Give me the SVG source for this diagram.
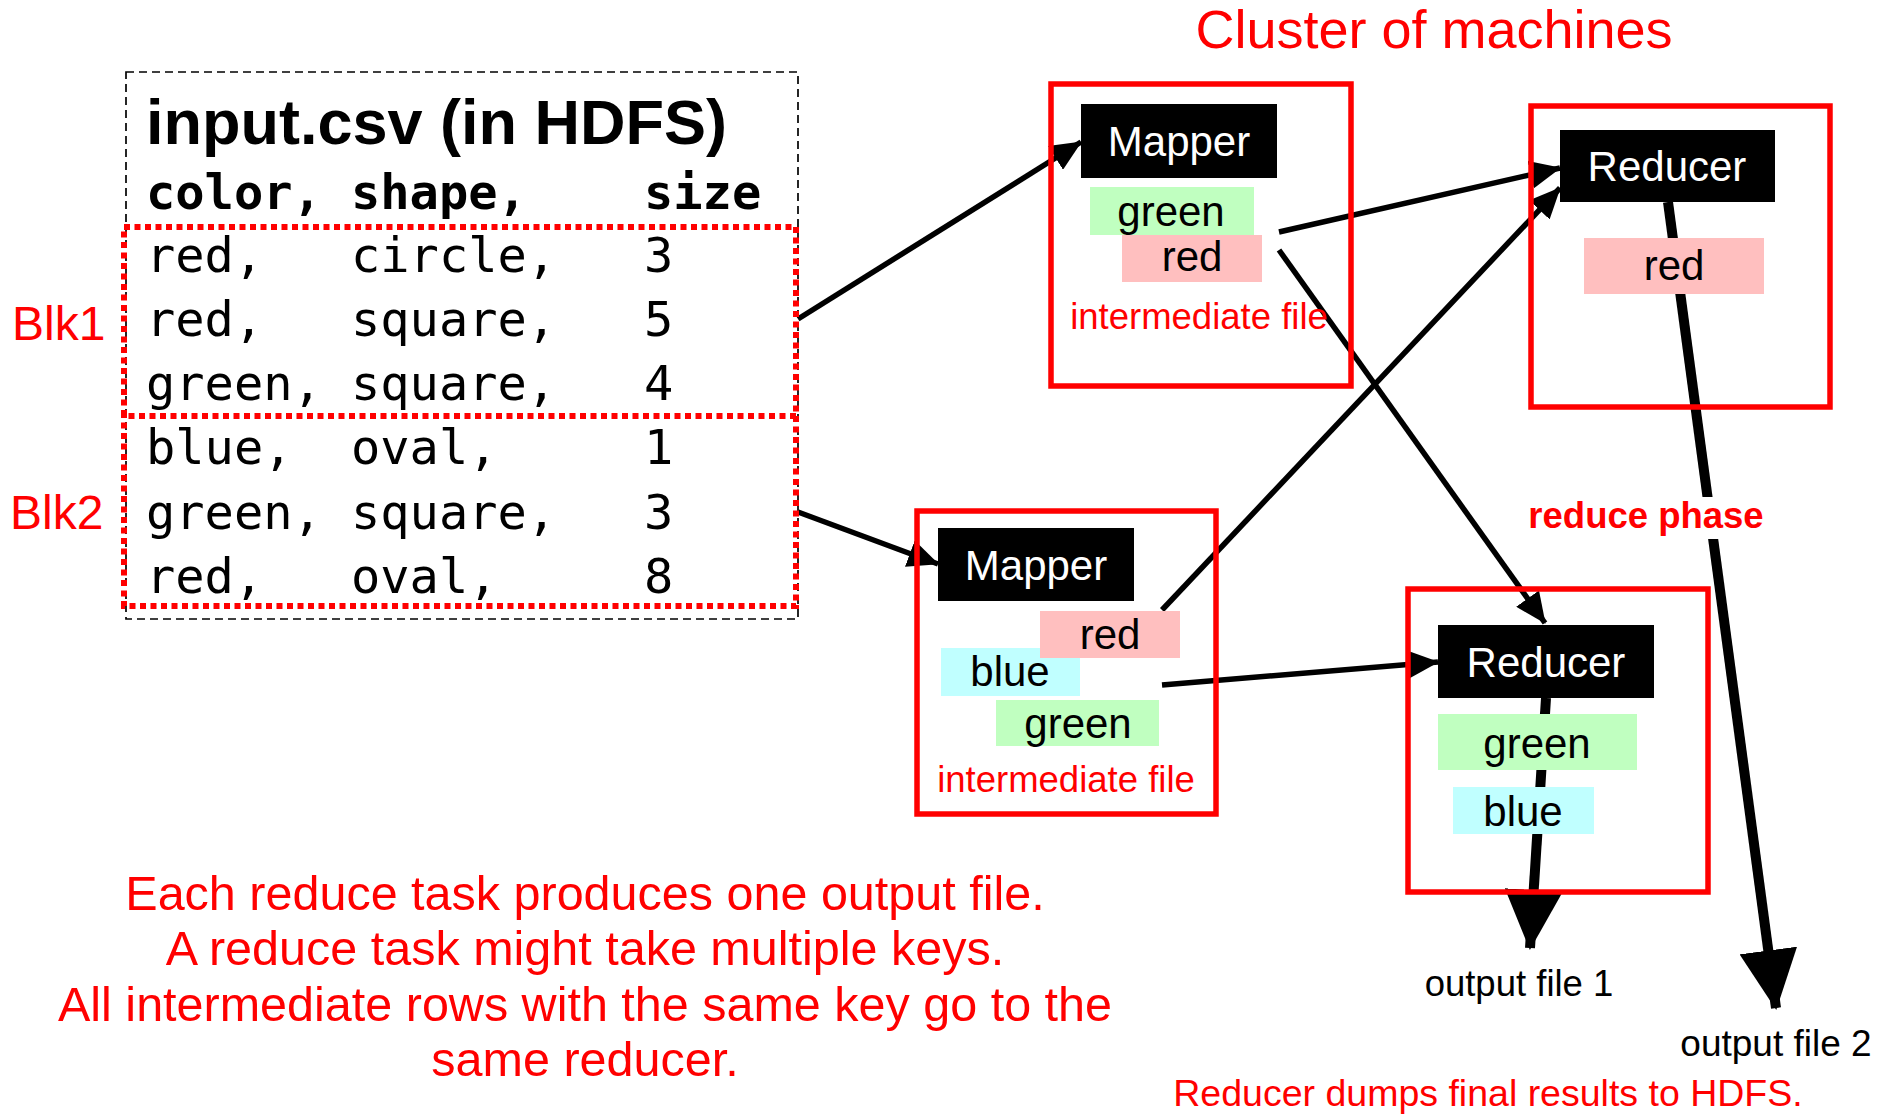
<svg xmlns="http://www.w3.org/2000/svg" width="1881" height="1114" viewBox="0 0 1881 1114">
<style>
.sans{font-family:"Liberation Sans",Arial,sans-serif}
.mono{font-family:"DejaVu Sans Mono","Liberation Mono",monospace;font-size:48.7px;fill:#000}
.red{fill:#FF0000}
.box{fill:none;stroke:#FF0000;stroke-width:5.5}
.blk{fill:none;stroke:#FF0000;stroke-width:6;stroke-dasharray:6 4.5}
.hd{fill:#000}
.hdt{font-family:"Liberation Sans",Arial,sans-serif;font-size:42px;fill:#fff;text-anchor:middle}
.key{font-family:"Liberation Sans",Arial,sans-serif;font-size:42px;fill:#000;text-anchor:middle}
.pink{fill:#FFBFBF}
.green{fill:#C0FFC0}
.cyan{fill:#C0FFFF}
.thin{stroke:#000;stroke-width:5.5;fill:none;marker-end:url(#arr)}
.thick{stroke:#000;stroke-width:10;fill:none;marker-end:url(#arrBig)}
</style>
<defs>
<marker id="arr" viewBox="0 0 31 28" refX="30" refY="14" markerWidth="31" markerHeight="28" markerUnits="userSpaceOnUse" orient="auto"><path d="M0,0 L31,14 L0,28 z" fill="#000"/></marker>
<marker id="arrBig" viewBox="0 0 60 58" refX="58" refY="29" markerWidth="60" markerHeight="58" markerUnits="userSpaceOnUse" orient="auto"><path d="M0,0 L60,29 L0,58 z" fill="#000"/></marker>
</defs>
<rect width="1881" height="1114" fill="#fff"/>

<g id="connectors">
<line class="thin" x1="798" y1="319" x2="1081" y2="142"/>
<line class="thin" x1="798" y1="512" x2="938" y2="564"/>
<line class="thin" x1="1279" y1="232" x2="1560" y2="168"/>
<line class="thin" x1="1279" y1="250" x2="1545" y2="623"/>
<line class="thin" x1="1162" y1="610" x2="1560" y2="188"/>
<line class="thin" x1="1162" y1="685" x2="1438" y2="662"/>
<line class="thick" x1="1668" y1="202" x2="1776" y2="1008"/>
<line class="thick" x1="1546" y1="698" x2="1530" y2="948"/>
</g>

<text class="sans red" x="1434" y="48" font-size="54" text-anchor="middle">Cluster of machines</text>

<g id="input">
<rect x="126" y="72" width="672" height="547" fill="none" stroke="#000" stroke-width="1.7" stroke-dasharray="8 5"/>
<text class="sans" x="146" y="144" font-size="63" font-weight="bold">input.csv (in HDFS)</text>
<g class="mono" font-weight="bold">
<text x="146" y="209">color,</text><text x="351" y="209">shape,</text><text x="644" y="209">size</text>
</g>
<g class="mono">
<text x="146" y="272">red,</text><text x="351" y="272">circle,</text><text x="644" y="272">3</text>
<text x="146" y="336">red,</text><text x="351" y="336">square,</text><text x="644" y="336">5</text>
<text x="146" y="400">green,</text><text x="351" y="400">square,</text><text x="644" y="400">4</text>
<text x="146" y="464">blue,</text><text x="351" y="464">oval,</text><text x="644" y="464">1</text>
<text x="146" y="529">green,</text><text x="351" y="529">square,</text><text x="644" y="529">3</text>
<text x="146" y="593">red,</text><text x="351" y="593">oval,</text><text x="644" y="593">8</text>
</g>
</g>

<g id="blk1">
<path class="blk" d="M124,227 H796 V416 H124 Z"/>
<text class="sans red" x="12" y="340" font-size="48">Blk1</text>
</g>
<g id="blk2">
<path class="blk" d="M796,416 V606 H124 V416"/>
<text class="sans red" x="10" y="529" font-size="48">Blk2</text>
</g>

<g id="mapper1">
<rect class="box" x="1051" y="84" width="300" height="302"/>
<rect class="hd" x="1081" y="104" width="196" height="74"/>
<text class="hdt" x="1179" y="156">Mapper</text>
<rect class="green" x="1090" y="187" width="164" height="48"/>
<text class="key" x="1171" y="226">green</text>
<rect class="pink" x="1122" y="235" width="140" height="47"/>
<text class="key" x="1192" y="271">red</text>
<text class="sans red" x="1199" y="329" font-size="36.5" text-anchor="middle">intermediate file</text>
</g>

<g id="reducer1">
<rect class="box" x="1531" y="106" width="299" height="301"/>
<rect class="hd" x="1560" y="130" width="215" height="72"/>
<text class="hdt" x="1667" y="181">Reducer</text>
<rect class="pink" x="1584" y="238" width="180" height="56"/>
<text class="key" x="1674" y="280">red</text>
</g>

<g id="mapper2">
<rect class="box" x="917" y="511" width="299" height="303"/>
<rect class="hd" x="938" y="528" width="196" height="73"/>
<text class="hdt" x="1036" y="580">Mapper</text>
<rect class="cyan" x="941" y="648" width="139" height="48"/>
<text class="key" x="1010" y="686">blue</text>
<rect class="pink" x="1040" y="611" width="140" height="47"/>
<text class="key" x="1110" y="649">red</text>
<rect class="green" x="996" y="700" width="163" height="46"/>
<text class="key" x="1078" y="738">green</text>
<text class="sans red" x="1066" y="792" font-size="36.5" text-anchor="middle">intermediate file</text>
</g>

<g id="reducer2">
<rect class="box" x="1408" y="589" width="300" height="303"/>
<rect class="hd" x="1438" y="625" width="216" height="73"/>
<text class="hdt" x="1546" y="677">Reducer</text>
<rect class="green" x="1438" y="714" width="199" height="56"/>
<text class="key" x="1537" y="758">green</text>
<rect class="cyan" x="1453" y="787" width="141" height="47"/>
<text class="key" x="1523" y="826">blue</text>
</g>

<g id="reduce-phase">
<rect x="1522" y="497" width="250" height="42" fill="#fff"/>
<text class="sans red" x="1646" y="528" font-size="36.5" font-weight="bold" text-anchor="middle">reduce phase</text>
</g>

<g id="output1"><text class="sans" x="1519" y="996" font-size="36.5" text-anchor="middle">output file 1</text></g>
<g id="output2"><text class="sans" x="1776" y="1056" font-size="37" text-anchor="middle">output file 2</text></g>

<text class="sans red" x="1488" y="1106" font-size="37.5" text-anchor="middle">Reducer dumps final results to HDFS.</text>

<g class="sans red" font-size="48.5" text-anchor="middle">
<text x="585" y="910">Each reduce task produces one output file.</text>
<text x="585" y="965">A reduce task might take multiple keys.</text>
<text x="585" y="1021">All intermediate rows with the same key go to the</text>
<text x="585" y="1076">same reducer.</text>
</g>
</svg>
